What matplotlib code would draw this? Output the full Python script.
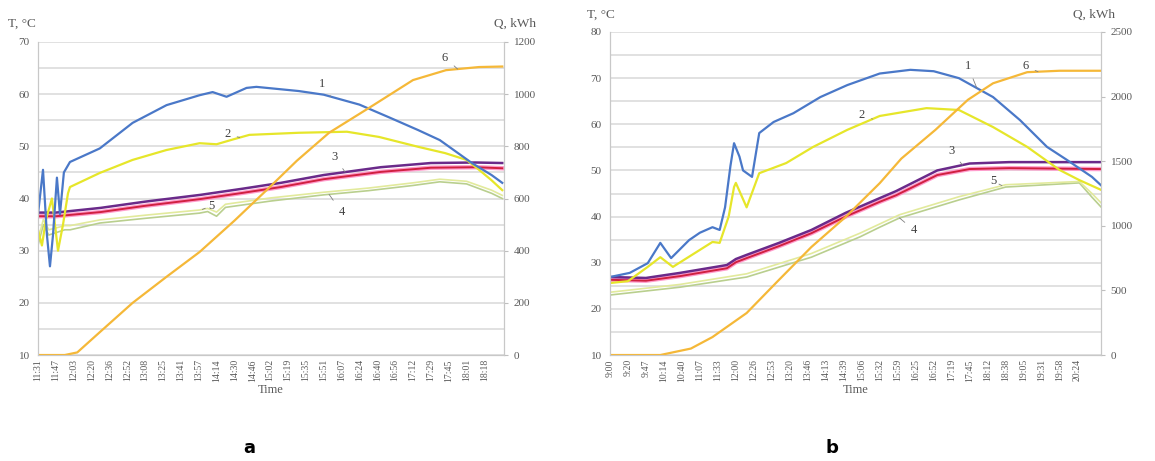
import numpy as np
import matplotlib.pyplot as plt

# ---- panel a -------------------------------------------------------------
a_times = ['11:31', '11:47', '12:03', '12:20', '12:36', '12:52', '13:08', '13:25',
           '13:41', '13:57', '14:14', '14:30', '14:46', '15:02', '15:19', '15:35',
           '15:51', '16:07', '16:24', '16:40', '16:56', '17:12', '17:29', '17:45',
           '18:01', '18:18']

# x values are positions on the category axis (tick index)
a_x1 = [0, 0.28, 0.5, 0.67, 0.84, 1.06, 1.23, 1.45, 1.79, 3.46, 5.3, 7.2, 9.05, 9.78,
        10.56, 11.68, 12.23, 14.6, 16.0, 18.0, 19.7, 21.3, 22.5, 24.3, 25.4, 26.0]
a_t1 = [37, 45.5, 33, 27, 33, 44, 37, 45, 47, 49.6, 54.5, 57.9, 59.8, 60.4,
        59.5, 61.2, 61.4, 60.6, 59.9, 58.0, 55.5, 53.1, 51.2, 46.8, 44.5, 43.0]

a_x2 = [0, 0.22, 0.45, 0.78, 1.12, 1.4, 1.68, 1.79, 3.46, 5.3, 7.2, 9.05, 10.0, 10.9,
        11.84, 14.6, 17.3, 19.1, 21.3, 22.8, 24.0, 24.7, 25.4, 26.0]
a_t2 = [34, 31, 36, 40, 30, 35, 41, 42.2, 44.9, 47.4, 49.3, 50.6, 50.4, 51.3,
        52.2, 52.6, 52.8, 51.8, 49.9, 48.7, 47.4, 45.5, 43.5, 41.6]

a_x3 = [0, 1.0, 3.5, 6.0, 9.1, 11.5, 13.6, 16.0, 19.2, 22.0, 24.5, 26.0]
a_t3 = [37.3, 37.3, 38.2, 39.4, 40.7, 41.9, 43.0, 44.5, 46.0, 46.8, 46.9, 46.8]
a_t3b = [36.6, 36.6, 37.4, 38.6, 39.9, 41.1, 42.2, 43.7, 45.1, 45.9, 46.0, 45.8]

a_x4 = [0, 0.3, 0.6, 1.5, 1.8, 3.46, 6.0, 9.05, 9.5, 10.0, 10.5, 13.0, 16.0, 18.5,
        21.0, 22.5, 24.0, 25.4, 26.0]
a_t4 = [31, 35, 33, 34, 34, 35.3, 36.2, 37.2, 37.5, 36.6, 38.3, 39.5, 40.7, 41.5,
        42.5, 43.2, 42.8, 41.0, 40.0]
a_t5 = [32, 36, 34, 34.8, 34.8, 35.9, 36.8, 37.8, 38.1, 37.4, 38.9, 40.1, 41.2, 42.0,
        43.0, 43.7, 43.3, 41.6, 40.6]

a_x6 = [0, 1.5, 2.2, 3.5, 5.3, 7.2, 9.05, 11.0, 12.8, 14.5, 16.3, 18.6, 21.0, 22.85,
        24.7, 26.0]
a_q6 = [0, 0, 10, 90, 200, 300, 395, 515, 632, 745, 852, 950, 1054, 1092, 1104, 1106]

# ---- panel b -------------------------------------------------------------
b_times = ['9:00', '9:20', '9:47', '10:14', '10:40', '11:07', '11:33', '12:00', '12:26',
           '12:53', '13:20', '13:46', '14:13', '14:39', '15:06', '15:32', '15:59',
           '16:25', '16:52', '17:19', '17:45', '18:12', '18:38', '19:05', '19:31',
           '19:58', '20:24']

b_x1 = [0, 1.1, 2.1, 2.8, 3.4, 4.4, 5.0, 5.7, 6.1, 6.4, 6.7, 6.9, 7.2, 7.4, 7.9, 8.3,
        9.1, 10.2, 11.7, 13.2, 15.0, 16.7, 18.0, 19.4, 21.3, 22.8, 24.3, 25.4, 26.8, 27.3]
b_t1 = [26.9, 27.8, 29.9, 34.3, 31.0, 34.9, 36.5, 37.7, 37.1, 42.0, 51, 55.9, 53, 50.0,
        48.6, 58.1, 60.5, 62.4, 65.9, 68.5, 71.0, 71.8, 71.5, 70.0, 65.9, 60.9, 55.1,
        52.3, 48.6, 46.8]

b_x2 = [0, 1.0, 2.1, 2.8, 3.5, 5.7, 6.1, 6.6, 6.9, 7.0, 7.6, 8.3, 9.8, 11.3, 13.2, 15.0,
        17.6, 19.4, 21.3, 23.2, 25.0, 26.1, 27.3]
b_t2 = [25.6, 26, 29.1, 31.2, 29.1, 34.5, 34.3, 40, 46.4, 47.3, 42.0, 49.4, 51.6, 55.1,
        58.8, 61.8, 63.5, 63.1, 59.4, 55.1, 50.1, 47.9, 45.8]

b_x3 = [0, 2.0, 3.9, 6.5, 7.0, 7.6, 9.4, 11.2, 13.1, 15.0, 15.9, 18.2, 20.0, 22.2, 27.3]
b_t3 = [26.9, 26.7, 27.8, 29.5, 30.8, 31.7, 34.3, 37.1, 40.8, 44.0, 45.5, 50.0, 51.5,
        51.8, 51.8]
b_t3b = [26.3, 26.1, 27.1, 28.8, 30.1, 31.0, 33.6, 36.4, 40.0, 43.2, 44.6, 49.0, 50.3,
         50.5, 50.3]

b_x4 = [0, 3.9, 7.6, 11.2, 13.9, 15.0, 16.1, 19.4, 22.0, 26.1, 26.8, 27.3]
b_t4 = [23, 24.7, 26.9, 31.2, 35.6, 37.7, 39.7, 43.6, 46.4, 47.3, 44.2, 42.1]
b_t5 = [23.6, 25.3, 27.6, 32.0, 36.4, 38.4, 40.4, 44.3, 46.9, 47.6, 45.0, 43.0]

b_x6 = [0, 2.8, 4.5, 5.7, 7.6, 9.4, 11.2, 13.1, 15.0, 16.2, 18.1, 19.9, 21.3, 23.2, 25.0,
        27.3]
b_q6 = [0, 0, 50, 139, 325, 582, 836, 1068, 1330, 1520, 1743, 1975, 2103, 2189, 2200,
        2200]

C_BLUE = '#4a78c8'
C_YEL = '#e6e62a'
C_PUR = '#6a2a8a'
C_RED = '#d02040'
C_PINK = '#ff9ccc'
C_GRN = '#b9cf8e'
C_PALE = '#e2ea9c'
C_ORA = '#f5b838'
GRAY = '#595959'
SERIF = 'Liberation Serif'


def style_axes(ax, ax2, ylim, qlim, qstep, xmax, times):
    ax.set_xlim(0, xmax)
    ax.set_ylim(*ylim)
    ax2.set_ylim(*qlim)
    ax.set_yticks(np.arange(ylim[0], ylim[1] + 1, 10))
    ax.set_yticks(np.arange(ylim[0], ylim[1] + 1, 5), minor=True)
    ax2.set_yticks(np.arange(qlim[0], qlim[1] + 1, qstep))
    ax.grid(True, which='both', axis='y', color='#dcdcdc', lw=1.2)
    ax.set_axisbelow(True)
    ax.set_xticks(np.arange(len(times)))
    ax.set_xticklabels(times, rotation=90, fontsize=7, family=SERIF, color=GRAY)
    ax.tick_params(axis='x', length=0, pad=3)
    ax.tick_params(axis='y', which='both', length=0, pad=6, labelsize=8, labelcolor=GRAY)
    ax2.tick_params(axis='y', length=3, color='#bfbfbf', pad=4, labelsize=8, labelcolor=GRAY)
    for lab in ax.get_yticklabels() + ax2.get_yticklabels():
        lab.set_family(SERIF)
    for a in (ax, ax2):
        a.spines['top'].set_visible(False)
        for s in ('left', 'right', 'bottom'):
            a.spines[s].set_color('#c8c8c8')
    ax.set_xlabel('Time', fontsize=9, family=SERIF, color=GRAY, labelpad=2)


def band(ax, x, t_top, t_bot):
    ax.plot(x, t_bot, color=C_PINK, lw=3.2)
    ax.plot(x, t_bot, color=C_RED, lw=1.4)
    ax.plot(x, t_top, color=C_PUR, lw=1.8)


def mark(ax, txt, tx, ty, x, y):
    ax.annotate(txt, xy=(x, y), xytext=(tx, ty), fontsize=9, family=SERIF, color='#404040',
                ha='center', va='center',
                arrowprops=dict(arrowstyle='-', color='#808080', lw=0.6, shrinkA=3, shrinkB=0))


fig = plt.figure(figsize=(11.55, 4.61), dpi=100)

# panel a
ax = fig.add_axes([0.0329, 0.2299, 0.4035, 0.679])
ax2 = ax.twinx()
ax.plot(a_x4, a_t4, color=C_GRN, lw=1.2)
ax.plot(a_x4, a_t5, color=C_PALE, lw=1.2)
band(ax, a_x3, a_t3, a_t3b)
ax.plot(a_x2, a_t2, color=C_YEL, lw=1.6)
ax.plot(a_x1, a_t1, color=C_BLUE, lw=1.6)
ax2.plot(a_x6, a_q6, color=C_ORA, lw=1.6)
style_axes(ax, ax2, (10, 70), (0, 1200), 200, 26.1, a_times)
mark(ax, '1', 15.9, 62.0, 16.4, np.interp(16.4, a_x1, a_t1))
mark(ax, '2', 10.6, 52.4, 11.3, np.interp(11.3, a_x2, a_t2))
mark(ax, '3', 16.6, 48.0, 17.2, np.interp(17.2, a_x3, a_t3))
mark(ax, '4', 17.0, 37.4, 16.3, np.interp(16.3, a_x4, a_t4))
mark(ax, '5', 9.7, 38.6, 9.2, np.interp(9.2, a_x4, a_t5))
mark(ax2, '6', 22.8, 1140, 23.5, np.interp(23.5, a_x6, a_q6))
fig.text(0.007, 0.942, 'T, \u00b0C', fontsize=9.5, family=SERIF, color=GRAY)
fig.text(0.428, 0.942, 'Q, kWh', fontsize=9.5, family=SERIF, color=GRAY)
fig.text(0.216, 0.018, 'a', fontsize=13, fontweight='bold', ha='center')

# panel b
bx = fig.add_axes([0.5281, 0.2299, 0.4251, 0.7007])
bx2 = bx.twinx()
bx.plot(b_x4, b_t4, color=C_GRN, lw=1.2)
bx.plot(b_x4, b_t5, color=C_PALE, lw=1.2)
band(bx, b_x3, b_t3, b_t3b)
bx.plot(b_x2, b_t2, color=C_YEL, lw=1.6)
bx.plot(b_x1, b_t1, color=C_BLUE, lw=1.6)
bx2.plot(b_x6, b_q6, color=C_ORA, lw=1.6)
style_axes(bx, bx2, (10, 80), (0, 2500), 500, 27.3, b_times)
mark(bx, '1', 19.9, 72.6, 20.4, np.interp(20.4, b_x1, b_t1))
mark(bx, '2', 14.0, 62.0, 14.6, np.interp(14.6, b_x2, b_t2))
mark(bx, '3', 19.0, 54.2, 19.6, np.interp(19.6, b_x3, b_t3))
mark(bx, '4', 16.9, 37.1, 16.1, np.interp(16.1, b_x4, b_t4))
mark(bx, '5', 21.3, 47.7, 21.8, np.interp(21.8, b_x4, b_t5))
mark(bx2, '6', 23.1, 2235, 23.8, np.interp(23.8, b_x6, b_q6))
fig.text(0.508, 0.962, 'T, \u00b0C', fontsize=9.5, family=SERIF, color=GRAY)
fig.text(0.929, 0.962, 'Q, kWh', fontsize=9.5, family=SERIF, color=GRAY)
fig.text(0.720, 0.018, 'b', fontsize=13, fontweight='bold', ha='center')

fig.savefig('out.png', dpi=100)
